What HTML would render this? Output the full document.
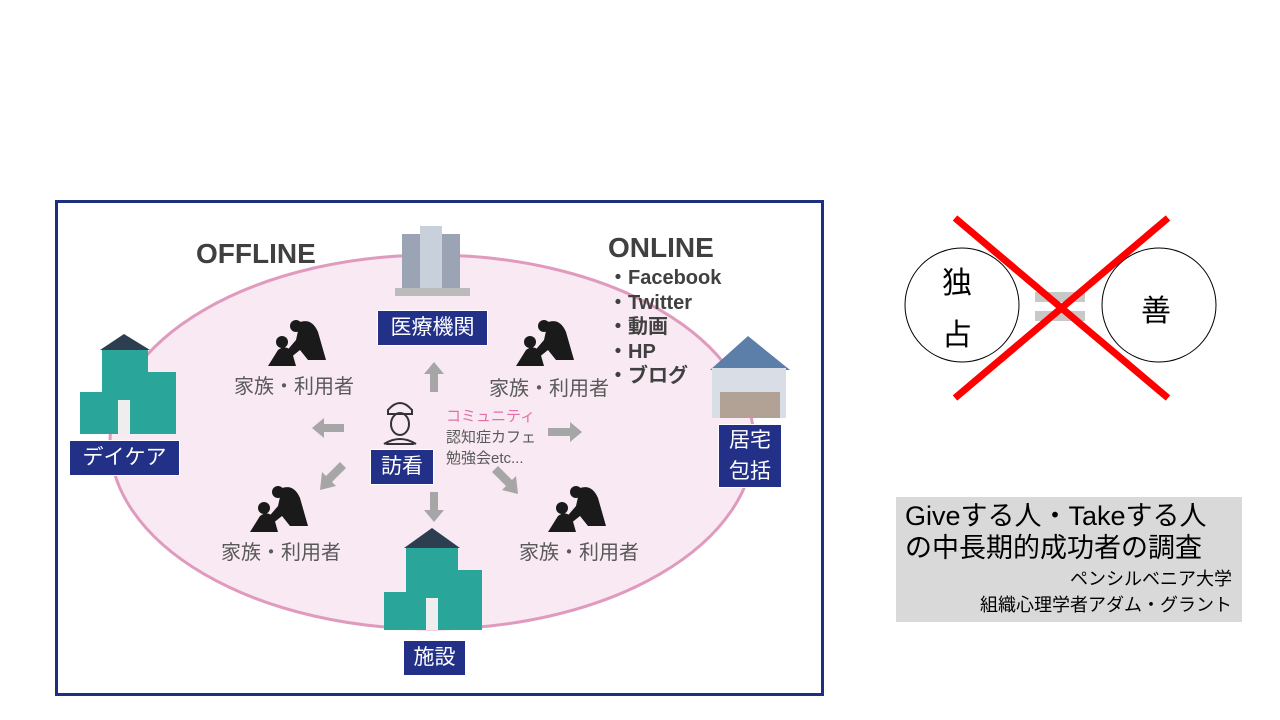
<!DOCTYPE html>
<html><head><meta charset="utf-8"><style>
body{margin:0;width:1280px;height:720px;background:#fff;position:relative;overflow:hidden;font-family:"Liberation Sans","Noto Sans CJK JP",sans-serif;}
.a{position:absolute}
.lb{position:absolute;background:#233088;color:#fff;font-size:21px;text-align:center;line-height:34px;border:1px solid #fff}
.t{position:absolute;color:#595959;font-size:20px;white-space:nowrap}
</style></head><body>
<div class="a" style="left:55px;top:200px;width:763px;height:490px;border:3px solid #1f2f7f"></div>
<svg class="a" style="left:0;top:0" width="1280" height="720">
<ellipse cx="432" cy="442" rx="322" ry="187" fill="#f8e9f2" stroke="#e09abd" stroke-width="3"/>
<g fill="#a6a6a6">
<polygon points="434,362 444,374 438,374 438,392 430,392 430,374 424,374"/>
<polygon points="312,428 324,418 324,424 344,424 344,432 324,432 324,438"/>
<polygon points="582,432 570,422 570,428 548,428 548,436 570,436 570,442"/>
<polygon points="434,522 444,510 438,510 438,492 430,492 430,510 424,510"/>
<polygon points="320,490 336,486 332,482 346,468 340,462 326,476 322,472"/>
<polygon points="518,494 502,490 506,486 492,472 498,466 512,480 516,476"/>
</g>
<g fill="#1a1a1a">
<path d="M300,322 q12,-4 18,10 l8,28 h-18 l-8,-10 l-10,8 l-6,-4 l12,-14 z"/><circle cx="296" cy="326" r="6"/><path d="M268,366 l10,-16 q8,-6 14,2 l4,14 z"/><circle cx="282" cy="342" r="6"/>
<path d="M548,322 q12,-4 18,10 l8,28 h-18 l-8,-10 l-10,8 l-6,-4 l12,-14 z"/><circle cx="544" cy="326" r="6"/><path d="M516,366 l10,-16 q8,-6 14,2 l4,14 z"/><circle cx="530" cy="342" r="6"/>
<path d="M282,488 q12,-4 18,10 l8,28 h-18 l-8,-10 l-10,8 l-6,-4 l12,-14 z"/><circle cx="278" cy="492" r="6"/><path d="M250,532 l10,-16 q8,-6 14,2 l4,14 z"/><circle cx="264" cy="508" r="6"/>
<path d="M580,488 q12,-4 18,10 l8,28 h-18 l-8,-10 l-10,8 l-6,-4 l12,-14 z"/><circle cx="576" cy="492" r="6"/><path d="M548,532 l10,-16 q8,-6 14,2 l4,14 z"/><circle cx="562" cy="508" r="6"/>
</g>
<g fill="none" stroke="#333" stroke-width="2"><path d="M388,410 q12,-14 24,0 v4 h-24 z"/><ellipse cx="400" cy="424" rx="9" ry="11"/><path d="M384,444 q16,-10 32,0 v0"/><path d="M386,444 h28"/></g>
<rect x="402" y="234" width="58" height="56" fill="#9aa4b4"/><rect x="420" y="226" width="22" height="64" fill="#c8d0dc"/><rect x="395" y="288" width="75" height="8" fill="#bbb"/>
<g><polygon points="100,350 124,334 150,350" fill="#2c3e50"/><rect x="102" y="350" width="46" height="84" fill="#2aa59a"/><rect x="80" y="392" width="22" height="42" fill="#2aa59a"/><rect x="148" y="372" width="28" height="62" fill="#2aa59a"/><rect x="118" y="400" width="12" height="34" fill="#eee"/></g>
<g><polygon points="404,548 432,528 460,548" fill="#2c3e50"/><rect x="406" y="548" width="52" height="82" fill="#2aa59a"/><rect x="384" y="592" width="22" height="38" fill="#2aa59a"/><rect x="458" y="570" width="24" height="60" fill="#2aa59a"/><rect x="426" y="598" width="12" height="32" fill="#eee"/></g>
<g><polygon points="710,370 748,336 790,370" fill="#5b7fa8"/><rect x="712" y="368" width="74" height="50" fill="#d8dde6"/><rect x="720" y="392" width="60" height="26" fill="#b2a296"/></g>
<circle cx="962" cy="305" r="57" fill="#fff" stroke="#000" stroke-width="1"/>
<circle cx="1159" cy="305" r="57" fill="#fff" stroke="#000" stroke-width="1"/>
<rect x="1035" y="292" width="50" height="10" fill="#c8c8c8"/><rect x="1035" y="311" width="50" height="10" fill="#c8c8c8"/>
<line x1="955" y1="218" x2="1168" y2="398" stroke="#f00" stroke-width="7"/>
<line x1="1168" y1="218" x2="955" y2="398" stroke="#f00" stroke-width="7"/>
</svg>
<div class="a" style="left:196px;top:238px;font-size:28px;font-weight:bold;color:#404040">OFFLINE</div>
<div class="a" style="left:608px;top:232px;font-size:28px;font-weight:bold;color:#404040">ONLINE</div>
<div class="a" style="left:608px;top:266px;font-size:20px;font-weight:bold;color:#404040;line-height:24.5px">・Facebook<br>・Twitter<br>・動画<br>・HP<br>・ブログ</div>
<div class="lb" style="left:377px;top:310px;width:109px">医療機関</div>
<div class="lb" style="left:69px;top:440px;width:109px">デイケア</div>
<div class="lb" style="left:370px;top:449px;width:62px">訪看</div>
<div class="lb" style="left:718px;top:424px;width:62px;line-height:31px">居宅<br>包括</div>
<div class="lb" style="left:403px;top:640px;width:61px">施設</div>
<div class="t" style="left:234px;top:370px">家族・利用者</div>
<div class="t" style="left:489px;top:372px">家族・利用者</div>
<div class="t" style="left:221px;top:536px">家族・利用者</div>
<div class="t" style="left:519px;top:536px">家族・利用者</div>
<div class="a" style="left:446px;top:406px;font-size:15px;line-height:21px;color:#595959"><span style="color:#e070a8">コミュニティ</span><br>認知症カフェ<br>勉強会etc...</div>
<div class="a" style="left:942px;top:258px;font-size:30px;line-height:52px">独<br>占</div>
<div class="a" style="left:1141px;top:286px;font-size:30px">善</div>
<div class="a" style="left:896px;top:497px;width:346px;height:125px;background:#d9d9d9"></div>
<div class="a" style="left:905px;top:500px;font-size:27px;line-height:32px;color:#000;white-space:nowrap">Giveする人・Takeする人<br>の中長期的成功者の調査</div>
<div class="a" style="left:900px;top:566px;width:332px;text-align:right;font-size:18px;line-height:26px;color:#000">ペンシルベニア大学<br>組織心理学者アダム・グラント</div>
</body></html>
